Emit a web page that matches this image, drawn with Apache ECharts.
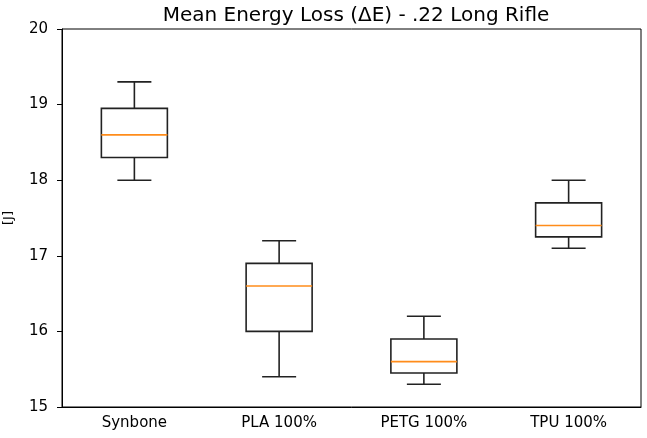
<!DOCTYPE html>
<html>
<head>
<meta charset="utf-8">
<script src="https://cdn.jsdelivr.net/npm/echarts@6/dist/echarts.min.js"></script>
<style>
  html, body { margin: 0; padding: 0; background: #fff; }
  #chart { width: 647px; height: 438px; }
</style>
</head>
<body>
<div id="chart"></div>
<script>
// data
const categories = ['Synbone', 'PLA 100%', 'PETG 100%', 'TPU 100%'];
// [low whisker, Q1, median, Q3, high whisker]
const boxValues = [
  [18.0, 18.3, 18.6, 18.95, 19.3],
  [15.4, 16.0, 16.6, 16.9, 17.2],
  [15.3, 15.45, 15.6, 15.9, 16.2],
  [17.1, 17.25, 17.4, 17.7, 18.0]
];
const yTicks = [15, 16, 17, 18, 19, 20];

const boxW = 66;
const capW = 34;
const font = 'DejaVu Sans';

const chart = echarts.init(document.getElementById('chart'));

// matplotlib-like box: half-width caps, orange median
function renderBox(params, api) {
  const i = api.value(0);
  const pt = v => api.coord([i, v]);
  const lo = pt(api.value(1)), q1 = pt(api.value(2)), med = pt(api.value(3));
  const q3 = pt(api.value(4)), hi = pt(api.value(5));
  const cx = lo[0];
  const dark = { stroke: '#222', lineWidth: 1.6, fill: null };
  return {
    type: 'group',
    children: [
      { type: 'line', shape: { x1: cx, y1: hi[1], x2: cx, y2: q3[1] }, style: dark },
      { type: 'line', shape: { x1: cx, y1: q1[1], x2: cx, y2: lo[1] }, style: dark },
      { type: 'line', shape: { x1: cx - capW / 2, y1: hi[1], x2: cx + capW / 2, y2: hi[1] }, style: dark },
      { type: 'line', shape: { x1: cx - capW / 2, y1: lo[1], x2: cx + capW / 2, y2: lo[1] }, style: dark },
      { type: 'rect', shape: { x: cx - boxW / 2, y: q3[1], width: boxW, height: q1[1] - q3[1] }, style: dark },
      { type: 'line', shape: { x1: cx - boxW / 2, y1: med[1], x2: cx + boxW / 2, y2: med[1] },
        style: { stroke: '#ff8c1a', lineWidth: 1.6 } }
    ]
  };
}

const option = {
  animation: false,
  title: {
    text: 'Mean Energy Loss (ΔE) - .22 Long Rifle',
    left: 351,
    textAlign: 'center',
    top: 1,
    textStyle: { fontFamily: font, fontSize: 20, fontWeight: 'normal', color: '#000' }
  },
  grid: {
    left: 62, right: 6, top: 29, bottom: 31,
    outerBoundsMode: 'none',
    containLabel: false,
    show: true, borderColor: '#000', borderWidth: 1
  },
  xAxis: {
    type: 'category',
    data: categories,
    boundaryGap: true,
    axisLine: { lineStyle: { color: '#000' } },
    axisTick: { alignWithLabel: true, length: 5, lineStyle: { color: '#000' } },
    axisLabel: { fontFamily: font, fontSize: 15, color: '#000', margin: 9 },
    splitLine: { show: false }
  },
  yAxis: {
    type: 'value',
    min: yTicks[0],
    max: yTicks[yTicks.length - 1],
    interval: 1,
    name: '[J]',
    nameLocation: 'middle',
    nameGap: 47,
    nameTextStyle: { fontFamily: font, fontSize: 13, color: '#000' },
    axisLine: { show: true, lineStyle: { color: '#000' } },
    axisTick: { show: true, length: 5, lineStyle: { color: '#000' } },
    axisLabel: { fontFamily: font, fontSize: 15, color: '#000', margin: 14 },
    splitLine: { show: false }
  },
  series: [
    {
      type: 'custom',
      data: boxValues.map((v, i) => [i].concat(v)),
      encode: { x: 0, y: [1, 2, 3, 4, 5] },
      renderItem: renderBox
    }
  ]
};

chart.setOption(option);
</script>
</body>
</html>
